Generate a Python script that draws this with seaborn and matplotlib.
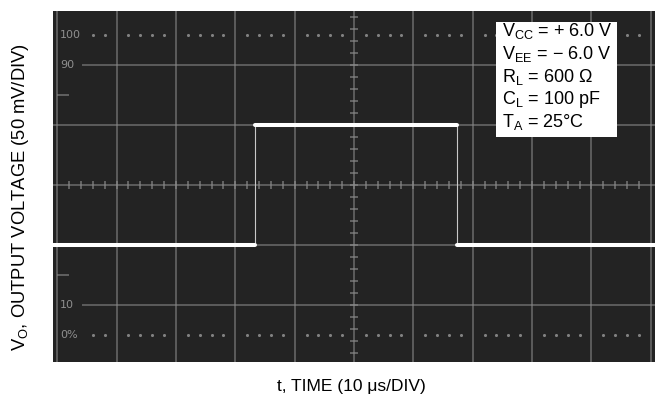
import numpy as np
import pandas as pd
import matplotlib
matplotlib.use('Agg')
import matplotlib.pyplot as plt
import seaborn as sns

# scope trace, 10 us/div and 50 mV/div, 0 mV at screen centre
time_us = [-0.7, 33.3, 33.3, 67.3, 67.3, 100.7]
vout_mv = [-50, -50, 50, 50, -50, -50]
seg_id = ['low1', 'low1', 'high', 'high', 'low2', 'low2']

pct_labels = ['100', '90', '10', '0%']
pct_levels_mv = [125, 100, -100, -125]

cond_lines = [r'V$_{\mathregular{CC}}$ = + 6.0 V',
              r'V$_{\mathregular{EE}}$ = $-$ 6.0 V',
              r'R$_{\mathregular{L}}$ = 600 $\Omega$',
              r'C$_{\mathregular{L}}$ = 100 pF',
              r'T$_{\mathregular{A}}$ = 25$\degree$C']

sns.set_style('white')
plt.rcParams['font.family'] = ['Liberation Sans Narrow', 'Liberation Sans', 'DejaVu Sans']
plt.rcParams['mathtext.fontset'] = 'custom'
plt.rcParams['mathtext.rm'] = 'Liberation Sans'
plt.rcParams['mathtext.it'] = 'Liberation Sans'
plt.rcParams['text.color'] = 'black'

W, H = 656, 400
fig = plt.figure(figsize=(W / 100, H / 100), dpi=100)
# screen area in pixels: x 53..655, y 11..362
ax = fig.add_axes([53 / W, 1 - 362 / H, (655 - 53) / W, (362 - 11) / H])
ax.set_facecolor('#232323')
ax.set_xlim(-0.7, 100.7)
ax.set_ylim(-147.5, 145)

grid_c = '#8a8a8a'
for t in np.arange(0, 101, 10):
    ax.axvline(t, color=grid_c, lw=1.1, alpha=0.7, zorder=1)
for v in [-50, 0, 50]:
    ax.axhline(v, color=grid_c, lw=1.1, alpha=0.7, zorder=1)
for v in [-100, 100]:
    ax.hlines(v, 4.2, 100.7, color=grid_c, lw=1.1, alpha=0.7, zorder=1)
# 0% / 100% dotted lines
dots_t = np.arange(2, 100, 2)
dots_t = dots_t[np.abs(dots_t / 10 - np.round(dots_t / 10)) > 0.05]
for v in [-125, 125]:
    ax.scatter(dots_t[dots_t > 4], np.full((dots_t > 4).sum(), v), s=5,
               color='#9a9a9a', alpha=0.8, linewidths=0, zorder=1)
# centre graticule minor ticks
for v in np.arange(-140, 141, 10):
    ax.hlines(v, 49.3, 50.7, color=grid_c, lw=1.1, alpha=0.8, zorder=1)
for t in np.arange(2, 100, 2):
    ax.vlines(t, -3.5, 3.5, color=grid_c, lw=1.1, alpha=0.8, zorder=1)
for v in [-75, 75]:
    ax.hlines(v, 0, 2, color=grid_c, lw=1.1, alpha=0.75, zorder=1)

for lab, v in zip(pct_labels, pct_levels_mv):
    ax.text(0.5, v, lab, color='#8f8f8f', fontsize=8, va='center', ha='left',
            family=['DejaVu Sans'], zorder=2)

df = pd.DataFrame({'t': time_us, 'v': vout_mv, 'seg': seg_id})
sns.lineplot(data=df, x='t', y='v', sort=False, estimator=None,
             color='#c8c8c8', lw=0.8, ax=ax, zorder=3)
for s in ['low1', 'high', 'low2']:
    sub = df[df['seg'] == s]
    sns.lineplot(data=sub, x='t', y='v', sort=False, estimator=None,
                 color='white', lw=2.9, ax=ax, zorder=4)

for sp in ax.spines.values():
    sp.set_visible(False)
ax.set_xticks([])
ax.set_yticks([])
ax.set_xlabel('')
ax.set_ylabel('')

# conditions box
fig.patches.append(plt.Rectangle((496 / W, 1 - 137 / H), 121 / W, 115 / H,
                                 transform=fig.transFigure, facecolor='white',
                                 edgecolor='none', zorder=5))
for i, line in enumerate(cond_lines):
    fig.text(502 / W, 1 - (31 + i * 22.8) / H, line, fontsize=13, color='black',
             va='center', ha='left', zorder=6)

fig.text(351 / W, 1 - 386 / H, 't, TIME (10 \u03bcs/DIV)', fontsize=12.5,
         ha='center', va='center', color='black')
fig.text(21 / W, 1 - 197 / H, r'V$_{\mathregular{O}}$, OUTPUT VOLTAGE (50 mV/DIV)',
         fontsize=13.2, ha='center', va='center', rotation=90, color='black')

fig.savefig('out.png', dpi=100)
